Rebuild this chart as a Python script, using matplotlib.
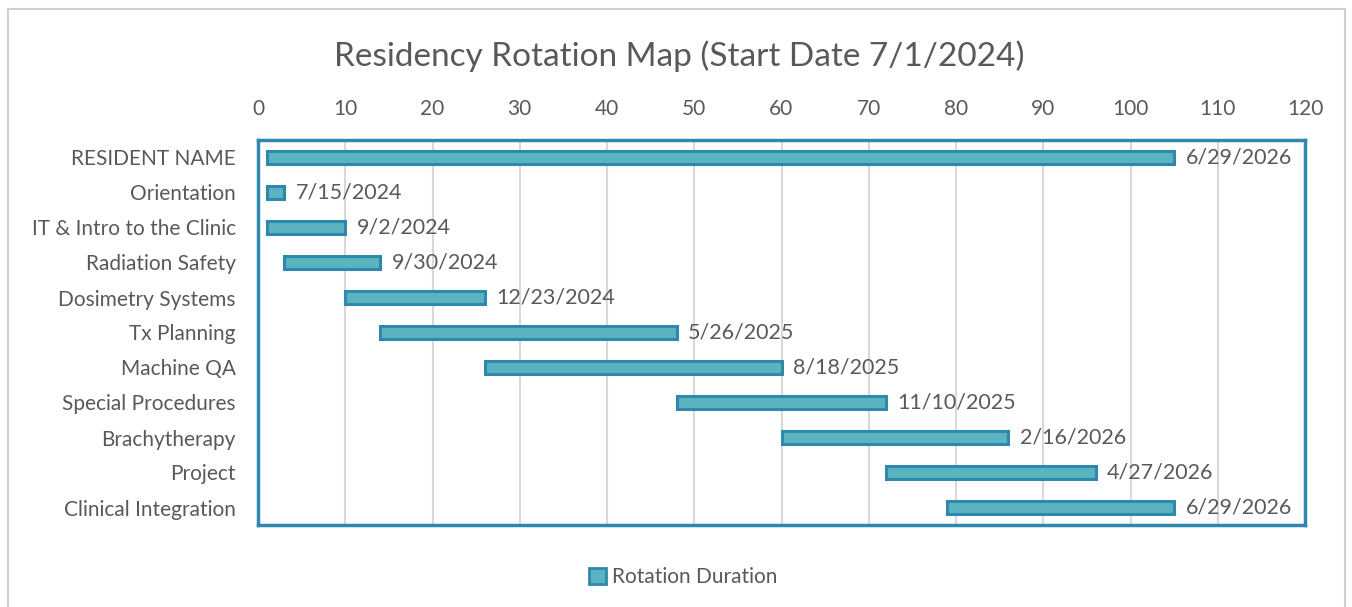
import matplotlib
matplotlib.use("Agg")
import matplotlib.pyplot as plt
from matplotlib.patches import Rectangle, Patch

categories = ["RESIDENT NAME", "Orientation", "IT & Intro to the Clinic", "Radiation Safety",
              "Dosimetry Systems", "Tx Planning", "Machine QA", "Special Procedures",
              "Brachytherapy", "Project", "Clinical Integration"]
start_week = [1, 1, 1, 3, 10, 14, 26, 48, 60, 72, 79]
duration = [104, 2, 9, 11, 16, 34, 34, 24, 26, 24, 26]
end_labels = ["6/29/2026", "7/15/2024", "9/2/2024", "9/30/2024", "12/23/2024", "5/26/2025",
              "8/18/2025", "11/10/2025", "2/16/2026", "4/27/2026", "6/29/2026"]
x_ticks = list(range(0, 121, 10))

plt.rcParams['font.family'] = ['Lato', 'DejaVu Sans']
txt = '#595959'
fill = '#5ab4c0'
edge = '#2f88ad'

fig = plt.figure(figsize=(13.52, 6.07), dpi=100)
fig.patches.append(Rectangle((8/1352, -0.01), (1345-8)/1352, 1 - 9/607 + 0.01,
                             transform=fig.transFigure, fill=False, edgecolor='#d0d0d0',
                             linewidth=1.5))
ax = fig.add_axes([258/1352, 1-525/607, (1305-258)/1352, (525-140)/607])

ypos = list(range(len(categories)))
ax.barh(ypos, duration, left=start_week, height=0.38, color=fill, edgecolor=edge,
        linewidth=2.2, label='Rotation Duration', zorder=3)
for y, s, d, lab in zip(ypos, start_week, duration, end_labels):
    ax.text(s + d + 1.3, y, lab, va='center', ha='left', fontsize=15.5, color=txt, zorder=4)

ax.set_xlim(0, 120)
ax.set_ylim(len(categories) - 0.5, -0.5)
ax.set_xticks(x_ticks)
ax.set_yticks(ypos)
ax.set_yticklabels(categories)
ax.xaxis.tick_top()
ax.tick_params(axis='both', length=0, labelsize=15, colors=txt)
ax.tick_params(axis='x', pad=15)
ax.tick_params(axis='y', pad=16)
ax.grid(axis='x', color='#d9d9d9', linewidth=1.5, zorder=0)
ax.set_axisbelow(True)
for sp in ax.spines.values():
    sp.set_color(edge)
    sp.set_linewidth(2.5)

fig.text(679/1352, 1-56/607, 'Residency Rotation Map (Start Date 7/1/2024)', ha='center',
         va='center', fontsize=24, color=txt)

handle = Patch(facecolor=fill, edgecolor=edge, linewidth=2)
fig.legend([handle], ['Rotation Duration'], loc='center', bbox_to_anchor=(683/1352, 1-577/607),
           frameon=False, fontsize=15, labelcolor=txt, handlelength=0.8, handleheight=0.8,
           handletextpad=0.3)

fig.savefig('out.png', dpi=100)
